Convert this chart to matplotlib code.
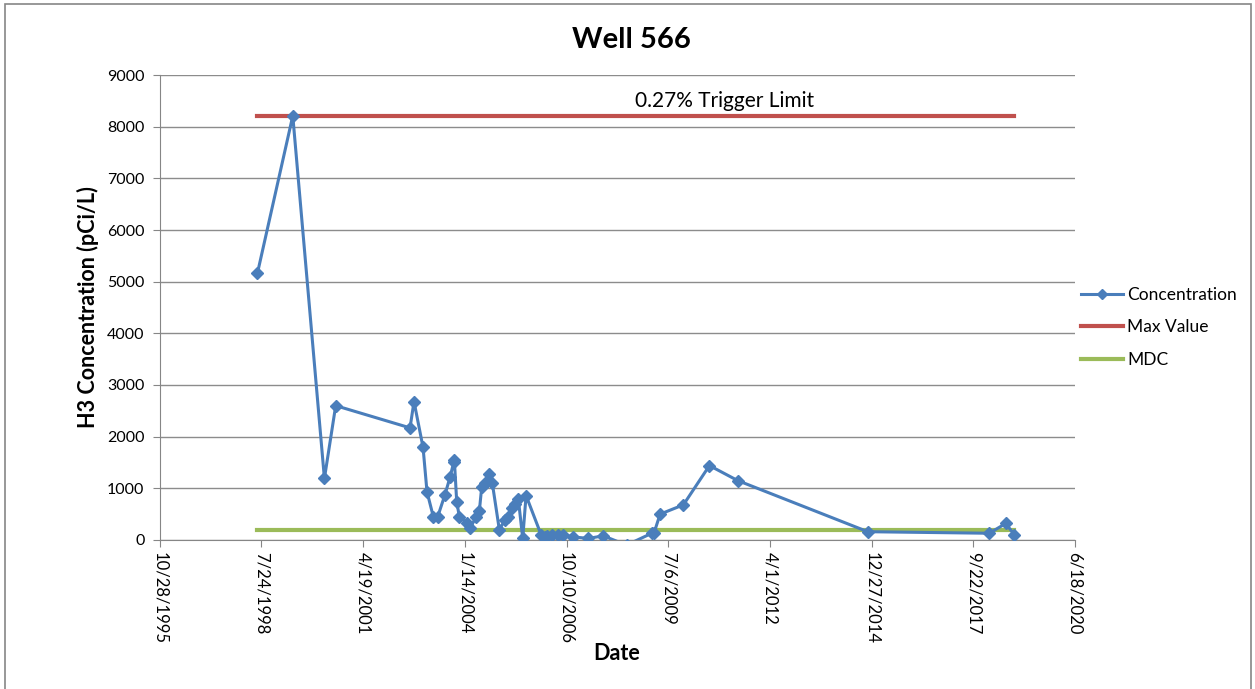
import pandas as pd
import numpy as np
from matplotlib import pyplot as plt
from matplotlib.lines import Line2D
from matplotlib.patches import Rectangle

plt.rcParams['font.family'] = ['Lato', 'DejaVu Sans']

# sample dates as Excel serial day numbers
date_serial = [35960, 36308, 36619, 36730, 37461, 37500, 37589, 37628, 37690, 37733,
               37805, 37855, 37890, 37897, 37920, 37946, 38019, 38051, 38110, 38143,
               38166, 38199, 38235, 38270, 38339, 38395, 38428, 38467, 38494, 38526,
               38569, 38602, 38750, 38790, 38805, 38854, 38920, 38963, 39061, 39214,
               39362, 39590, 39838, 39861, 39920, 40149, 40405, 40683, 41962, 43157,
               43319, 43403]
concentration = [5160, 8210, 1190, 2600, 2170, 2680, 1790, 930, 450, 450,
                 880, 1220, 1500, 1540, 740, 450, 330, 230, 440, 570,
                 1030, 1100, 1270, 1100, 200, 390, 450, 620, 690, 790,
                 30, 860, 100, 60, 80, 100, 100, 100, 60, 30,
                 80, -100, 130, 140, 500, 680, 1440, 1150, 160, 130,
                 320, 100]
max_value = 8210
mdc = 194
tick_serial = [35000, 36000, 37000, 38000, 39000, 40000, 41000, 42000, 43000, 44000]
tick_labels = ['10/28/1995', '7/24/1998', '4/19/2001', '1/14/2004', '10/10/2006',
               '7/6/2009', '4/1/2012', '12/27/2014', '9/22/2017', '6/18/2020']

def to_date(serial):
    return pd.to_datetime(serial, unit='D', origin='1899-12-30')

dates = to_date(date_serial)
ticks = to_date(tick_serial)
span = [dates[0], dates[-1]]

blue = '#4A7EBB'
red = '#C0504D'
green = '#9BBB59'

fig = plt.figure(figsize=(12.55, 6.89), dpi=100)
fig.patches.append(Rectangle((0.004, -0.01), 0.993, 1.004, transform=fig.transFigure,
                             fill=False, edgecolor='#868686', linewidth=1.2))
ax = fig.add_axes([0.1273, 0.2163, 0.7293, 0.6748])

ax.plot(dates, concentration, color=blue, linewidth=2.2, marker='D', markersize=6.5,
        label='Concentration', zorder=3)
ax.plot(span, [max_value, max_value], color=red, linewidth=3, label='Max Value', zorder=2)
ax.plot(span, [mdc, mdc], color=green, linewidth=3, label='MDC', zorder=2)

ax.text(to_date(40553), 8496, '0.27% Trigger Limit', ha='center', va='center', fontsize=15)

ax.set_xlim(ticks[0], ticks[-1])
ax.set_ylim(0, 9000)
ax.set_yticks(np.arange(0, 9001, 1000))
ax.set_xticks(ticks)
ax.set_xticklabels(tick_labels, rotation=270, fontsize=12, va='top', ha='center')
ax.tick_params(axis='y', labelsize=11.5, length=5, color='#868686', pad=6)
ax.tick_params(axis='x', length=5, color='#868686', pad=4)
ax.grid(axis='y', color='#8C8C8C', linewidth=1)
ax.set_axisbelow(True)
for s in ['top', 'right']:
    ax.spines[s].set_visible(False)
for s in ['left', 'bottom']:
    ax.spines[s].set_color('#868686')

fig.text(0.503, 0.942, 'Well 566', fontsize=21, fontweight='bold', ha='center', va='center')
ax.set_ylabel('H3 Concentration (pCi/L)', fontsize=15.5, fontweight='bold', labelpad=6)
fig.text(0.491, 0.052, 'Date', fontsize=15.5, fontweight='bold', ha='center', va='center')

handles = [Line2D([], [], color=blue, linewidth=2.2, marker='D', markersize=5),
           Line2D([], [], color=red, linewidth=3),
           Line2D([], [], color=green, linewidth=3)]
fig.legend(handles, ['Concentration', 'Max Value', 'MDC'], loc='center left',
           bbox_to_anchor=(0.849, 0.525), frameon=False, fontsize=12.5,
           handlelength=2.4, handletextpad=0.25, labelspacing=0.95)

plt.savefig('out.png', dpi=100)
